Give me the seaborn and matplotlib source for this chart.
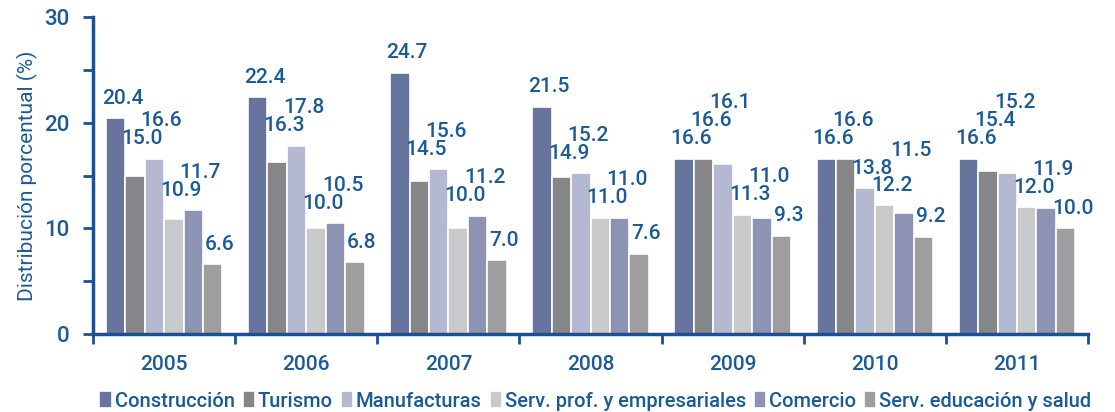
import pandas as pd
import numpy as np
import matplotlib.pyplot as plt
import seaborn as sns

years = ["2005", "2006", "2007", "2008", "2009", "2010", "2011"]
sectors = ["Construcción", "Turismo", "Manufacturas", "Serv. prof. y empresariales",
           "Comercio", "Serv. educación y salud"]
construccion = [20.4, 22.4, 24.7, 21.5, 16.6, 16.6, 16.6]
turismo = [15.0, 16.3, 14.5, 14.9, 16.6, 16.6, 15.4]
manufacturas = [16.6, 17.8, 15.6, 15.2, 16.1, 13.8, 15.2]
serv_prof = [10.9, 10.0, 10.0, 11.0, 11.3, 12.2, 12.0]
comercio = [11.7, 10.5, 11.2, 11.0, 11.0, 11.5, 11.9]
educacion = [6.6, 6.8, 7.0, 7.6, 9.3, 9.2, 10.0]
colors = ["#5E71A7", "#858689", "#B0B5D4", "#C8C9CB", "#8690BA", "#9D9EA2"]

series = [construccion, turismo, manufacturas, serv_prof, comercio, educacion]
df = pd.DataFrame({
    "year": np.tile(years, len(sectors)),
    "sector": np.repeat(sectors, len(years)),
    "value": np.concatenate(series),
})

blue = "#1B5A97"
axis_blue = "#1E4F8E"
plt.rcParams["font.family"] = ["Roboto", "DejaVu Sans"]
plt.rcParams["font.weight"] = "medium"

fig = plt.figure(figsize=(11.15, 4.12), dpi=100)
ax = fig.add_axes([0.0834, 0.189, 0.8925, 0.77])

sns.barplot(data=df, x="year", y="value", hue="sector", palette=colors,
            width=0.82, edgecolor="white", linewidth=1.2, ax=ax)

ax.set_xlim(-0.5, 6.5)
ax.set_ylim(0, 30)

# value labels: above own bar and the next one, pushed up while they hit an earlier label
renderer = fig.canvas.get_renderer()
inv = ax.transData.inverted()
bw = 0.82 / len(sectors)
for g in range(len(years)):
    boxes = []
    for s in range(len(sectors)):
        v = series[s][g]
        nxt = series[s + 1][g] if s + 1 < len(sectors) else v
        x = g - 0.41 + bw * (s + 0.5)
        t = ax.text(x + 0.05, max(v, nxt) + 1.0, f"{v:.1f}", ha="center",
                    va="bottom", color=blue, fontsize=15)
        for _ in range(10):
            bb = t.get_window_extent(renderer)
            hit = None
            for pb in boxes:
                if bb.x0 < pb.x1 - 1 and bb.x1 > pb.x0 + 1 and bb.y0 < pb.y1 - 3 and bb.y1 > pb.y0 + 3:
                    hit = pb
                    break
            if hit is None:
                break
            t.set_y(inv.transform((0, hit.y1 - 1))[1])
        boxes.append(t.get_window_extent(renderer))

ax.set_yticks([0, 10, 20, 30])
ax.set_yticks([5, 15, 25], minor=True)
ax.set_xticks(np.arange(-0.5, 7, 1), minor=True)
ax.tick_params(axis="x", which="major", length=0, labelsize=15,
               labelcolor=blue, pad=15)
ax.tick_params(axis="x", which="minor", length=7, width=2, color=axis_blue,
               direction="out")
ax.tick_params(axis="y", which="both", length=7, width=2, color=axis_blue,
               labelsize=16, labelcolor=blue, pad=10)
ax.set_xlabel("")
ax.set_ylabel("Distribución porcentual (%)", color=blue, fontsize=15)
for side in ["top", "right"]:
    ax.spines[side].set_visible(False)
for side in ["left", "bottom"]:
    ax.spines[side].set_color(axis_blue)
    ax.spines[side].set_linewidth(2.5)

ax.legend(loc="upper center", bbox_to_anchor=(0.505, -0.155), ncol=6, frameon=False,
          fontsize=14.5, labelcolor=blue, handlelength=0.6, handleheight=0.9,
          handletextpad=0.15, columnspacing=0.4, borderaxespad=0)

fig.savefig("out.png", dpi=100)
